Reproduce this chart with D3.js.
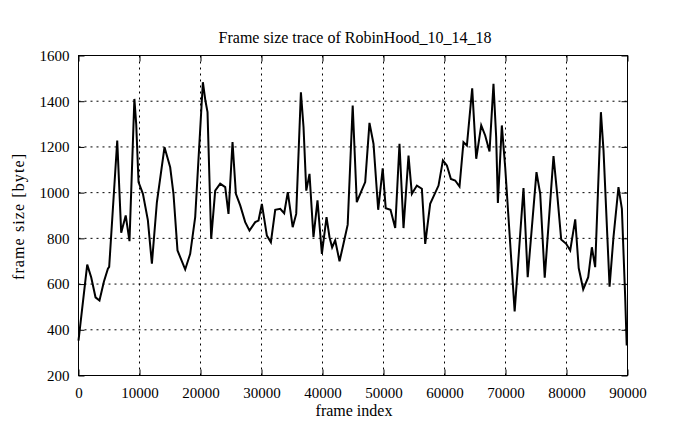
<!DOCTYPE html>
<html><head><meta charset="utf-8">
<script src="https://cdn.jsdelivr.net/npm/d3@7"></script>
<style>body{margin:0;background:#fff}svg{display:block}</style>
</head><body>
<svg id="chart" width="695" height="429"></svg>
<script>
const title = "Frame size trace of RobinHood_10_14_18";
const xLabel = "frame index";
const yLabel = "frame size [byte]";
const xTicks = [0,10000,20000,30000,40000,50000,60000,70000,80000,90000];
const yTicks = [200,400,600,800,1000,1200,1400,1600];
const frames = [0,1430,2080,2790,3440,4160,4820,5030,6350,7000,7740,8360,9160,9460,9840,10560,11370,12030,12850,14100,15030,15570,16230,17490,18310,19130,20390,20800,21150,21750,22410,23230,24050,24590,25250,25800,26510,27330,28030,28970,29510,30060,30880,31540,32250,33070,33720,34310,35110,35690,36460,36890,37340,37870,38520,39180,39900,40660,41150,41580,42080,42790,43440,44130,44950,45620,46300,47000,47700,48360,49130,49870,50360,51150,51920,52620,53280,54100,54650,55470,56290,56840,57650,59020,59740,60390,61050,61750,62460,63110,63670,64540,65200,66020,66670,67380,68030,68470,68750,69400,69950,71500,72950,73640,75080,75690,76430,77870,78520,79130,79950,80610,81430,82000,82740,83560,84160,84700,85640,86070,87060,87700,88520,89080,89620,89870];
const sizes = [353,685,630,542,528,610,667,675,1228,825,900,788,1410,1300,1046,995,880,689,958,1199,1111,995,747,664,732,893,1483,1403,1352,798,1009,1039,1024,907,1221,995,944,871,834,871,878,951,812,783,925,929,910,1002,849,907,1439,1286,1009,1082,805,966,732,893,805,760,791,700,776,860,1381,958,1002,1046,1305,1214,925,1106,932,925,845,1214,845,1162,995,1031,1017,776,951,1031,1141,1119,1060,1053,1027,1221,1206,1456,1148,1294,1250,1180,1476,1243,955,1294,1111,480,1020,630,1090,995,628,1160,980,795,776,747,883,670,577,630,761,674,1352,1184,589,805,1024,929,542,331];

const svg = d3.select("#chart");
const L = 78.5, R = 627.5, T = 55.5, B = 375.5;
const x = d3.scaleLinear().domain([0,90000]).range([L,R]);
const y = d3.scaleLinear().domain([200,1600]).range([B,T]);
const font = "'Liberation Serif','Times New Roman',serif";

// grid
const g = svg.append("g");
g.selectAll(".vg").data(xTicks.slice(1,-1)).enter().append("line")
  .attr("x1",d=>x(d)).attr("x2",d=>x(d)).attr("y1",T).attr("y2",B)
  .attr("stroke","#000").attr("stroke-width",1).attr("stroke-dasharray","2,4");
g.selectAll(".hg").data(yTicks.slice(1,-1)).enter().append("line")
  .attr("y1",d=>y(d)).attr("y2",d=>y(d)).attr("x1",L).attr("x2",R)
  .attr("stroke","#000").attr("stroke-width",1).attr("stroke-dasharray","2,4");

// axes
const ax = d3.axisBottom(x).tickValues(xTicks).tickSize(-6).tickPadding(12).tickFormat(d3.format("d"));
const ay = d3.axisLeft(y).tickValues(yTicks).tickSize(-6).tickPadding(9).tickFormat(d3.format("d"));
const axT = d3.axisTop(x).tickValues(xTicks).tickSize(-6).tickFormat("");
const ayR = d3.axisRight(y).tickValues(yTicks).tickSize(-6).tickFormat("");
function style(sel){
  sel.attr("font-family",font);
  sel.select(".domain").remove();
  sel.selectAll("line").attr("stroke","#000");
  sel.selectAll("text").attr("font-family",font).attr("font-size",15).attr("fill","#000");
}
svg.append("g").attr("transform",`translate(0,${B})`).call(ax).call(style);
svg.append("g").attr("transform",`translate(${L},0)`).call(ay).call(style);
svg.append("g").attr("transform",`translate(0,${T})`).call(axT).call(style);
svg.append("g").attr("transform",`translate(${R},0)`).call(ayR).call(style);

svg.append("rect").attr("x",L).attr("y",T).attr("width",R-L).attr("height",B-T)
  .attr("fill","none").attr("stroke","#000").attr("stroke-width",1);

// line
const data = frames.map((f,i)=>[f,sizes[i]]);
svg.append("path").datum(data)
  .attr("d", d3.line().x(d=>x(d[0])).y(d=>y(d[1])))
  .attr("fill","none").attr("stroke","#000").attr("stroke-width",2).attr("stroke-linejoin","miter");

// labels
svg.append("text").attr("x",355).attr("y",43).attr("text-anchor","middle")
  .attr("font-family",font).attr("font-size",16).text(title);
svg.append("text").attr("x",354).attr("y",416).attr("text-anchor","middle")
  .attr("font-family",font).attr("font-size",16).text(xLabel);
svg.append("text").attr("transform","translate(24,217) rotate(-90)").attr("text-anchor","middle")
  .attr("font-family",font).attr("font-size",16).attr("textLength",126).attr("lengthAdjust","spacing").text(yLabel);
</script>
</body></html>
